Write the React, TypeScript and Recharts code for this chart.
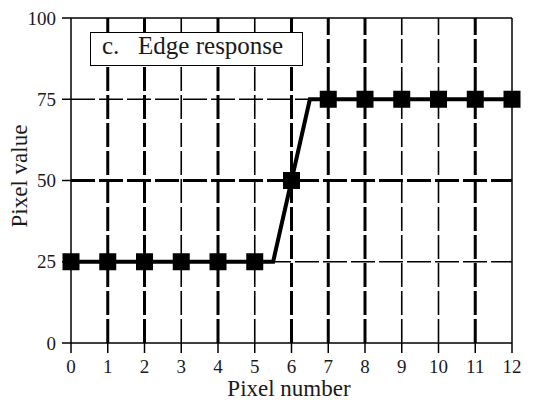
import React from "react";
import { ComposedChart, Line, Scatter, XAxis, YAxis, ReferenceLine } from "recharts";

// Sampled pixel values across the edge
const PIXEL_NUMBER = [0, 1, 2, 3, 4, 5, 6, 7, 8, 9, 10, 11, 12];
const PIXEL_VALUE = [25, 25, 25, 25, 25, 25, 50, 75, 75, 75, 75, 75, 75];

// Vertices of the continuous edge profile drawn under the samples
const EDGE_X = [0, 5.5, 6, 6.5, 12];
const EDGE_Y = [25, 25, 50, 75, 75];

const X_TICKS = [0, 1, 2, 3, 4, 5, 6, 7, 8, 9, 10, 11, 12];
const Y_TICKS = [0, 25, 50, 75, 100];
const GRID_X = [1, 2, 3, 4, 5, 6, 7, 8, 9, 10, 11];
const GRID_Y = [25, 50, 75];

const PANEL_TITLE = "c.\u00a0\u00a0\u00a0Edge response";
const X_TITLE = "Pixel number";
const Y_TITLE = "Pixel value";

// the scanned figure has heavier grid strokes on some lines
const HEAVY_X = new Set([1, 2, 4, 6, 7, 8, 11]);
const HEAVY_Y = new Set([50]);

const INK = "#000";
const TEXT = "#1a1a1a";
const FONT = "'Liberation Serif', 'Times New Roman', serif";
const DASH = "24 4";
const TICK_FONT = 19;
const TITLE_FONT = 23;
const PANEL_FONT = 25;

const W = 534;
const H = 406;

const edgeRows = EDGE_X.map((x, i) => ({ x, y: EDGE_Y[i] }));
const sampleRows = PIXEL_NUMBER.map((x, i) => ({ x, y: PIXEL_VALUE[i] }));

const SquareDot = (props: any) => {
  const { cx, cy } = props;
  if (cx == null || cy == null) return <g />;
  return <rect x={cx - 8.5} y={cy - 8.5} width={17} height={17} fill={INK} />;
};

const XTick = (props: any) => {
  const { x, y, payload } = props;
  return (
    <text x={x} y={y} dy="0.71em" textAnchor="middle" fontSize={TICK_FONT} fontFamily={FONT} fill={TEXT}>
      {payload.value}
    </text>
  );
};

const YTick = (props: any) => {
  const { x, y, payload } = props;
  return (
    <text x={x} y={y} dy="0.355em" textAnchor="end" fontSize={TICK_FONT} fontFamily={FONT} fill={TEXT}>
      {payload.value}
    </text>
  );
};

export default function App() {
  return (
    <div
      style={{
        position: "absolute",
        left: 0,
        top: 0,
        width: W,
        height: H,
        background: "#fff",
        fontFamily: FONT,
      }}
    >
      <ComposedChart width={W} height={H} margin={{ top: 18, right: 22, left: 0, bottom: 0 }}>
        <XAxis
          type="number"
          dataKey="x"
          domain={[0, 12]}
          ticks={X_TICKS}
          interval={0}
          allowDecimals={false}
          height={63}
          tickSize={10}
          tickMargin={7}
          stroke={INK}
          axisLine={{ stroke: INK, strokeWidth: 1.5 }}
          tickLine={{ stroke: INK, strokeWidth: 1.5 }}
          tick={<XTick />}
          label={{
            content: () => (
              <text x={289} y={396} textAnchor="middle" fontSize={TITLE_FONT} fill={TEXT} fontFamily={FONT}>
                {X_TITLE}
              </text>
            ),
          }}
        />
        <YAxis
          type="number"
          dataKey="y"
          domain={[0, 100]}
          ticks={Y_TICKS}
          interval={0}
          width={71}
          tickSize={9}
          tickMargin={6}
          stroke={INK}
          axisLine={{ stroke: INK, strokeWidth: 1.5 }}
          tickLine={{ stroke: INK, strokeWidth: 1.5 }}
          tick={<YTick />}
          label={{
            content: () => (
              <text
                x={27}
                y={176}
                transform="rotate(-90 27 176)"
                textAnchor="middle"
                fontSize={TITLE_FONT}
                fill={TEXT}
                fontFamily={FONT}
              >
                {Y_TITLE}
              </text>
            ),
          }}
        />
        {GRID_X.map((x) => (
          <ReferenceLine
            key={`gx${x}`}
            x={x}
            stroke={INK}
            strokeWidth={HEAVY_X.has(x) ? 3 : 1.6}
            strokeDasharray={DASH}
          />
        ))}
        {GRID_Y.map((y) => (
          <ReferenceLine
            key={`gy${y}`}
            y={y}
            stroke={INK}
            strokeWidth={HEAVY_Y.has(y) ? 3 : 1.6}
            strokeDasharray={DASH}
          />
        ))}
        <ReferenceLine y={100} stroke={INK} strokeWidth={1.5} />
        <ReferenceLine x={12} stroke={INK} strokeWidth={1.5} />
        <Line
          data={edgeRows}
          dataKey="y"
          type="linear"
          stroke={INK}
          strokeWidth={4}
          dot={false}
          activeDot={false}
          isAnimationActive={false}
        />
        <Scatter data={sampleRows} dataKey="y" fill={INK} shape={SquareDot} isAnimationActive={false} />
      </ComposedChart>
      <div
        style={{
          position: "absolute",
          left: 90,
          top: 32,
          width: 213,
          height: 34,
          boxSizing: "border-box",
          border: `1.5px solid ${INK}`,
          background: "#fff",
          color: TEXT,
          fontSize: PANEL_FONT,
          lineHeight: "26px",
          paddingLeft: 11,
          whiteSpace: "nowrap",
        }}
      >
        {PANEL_TITLE}
      </div>
    </div>
  );
}
